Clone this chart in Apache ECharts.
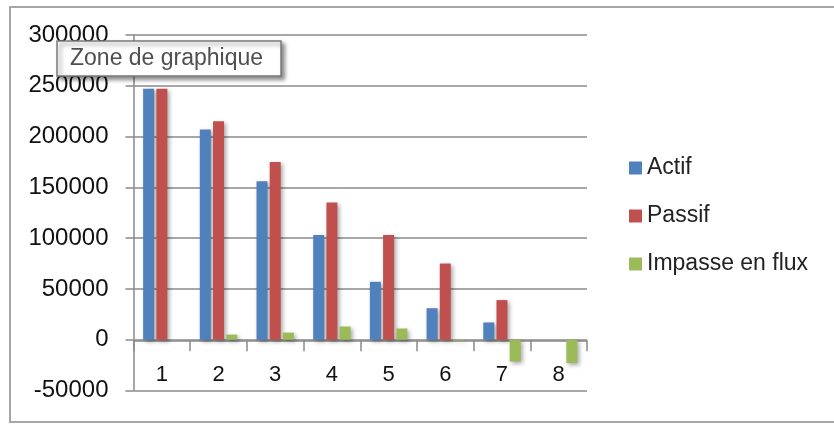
<!DOCTYPE html>
<html>
<head>
<meta charset="utf-8">
<script src="https://cdn.jsdelivr.net/npm/echarts@6/dist/echarts.min.js"></script>
<style>
  html, body { margin: 0; padding: 0; background: #ffffff; }
  #chart { width: 834px; height: 432px; }
</style>
</head>
<body>
<div id="chart"></div>
<script>
// ---- data ----
var categories = ['1', '2', '3', '4', '5', '6', '7', '8'];
var seriesNames = ['Actif', 'Passif', 'Impasse en flux'];
var actif   = [247000, 207000, 156000, 103000, 57000, 31000, 17000, 0];
var passif  = [247000, 215000, 175000, 135000, 103000, 75000, 39000, 0];
var impasse = [0, 5000, 7000, 13000, 11000, -800, -21500, -23000];
var yTicks = { min: -50000, max: 300000, interval: 50000 };
var tooltipLabel = 'Zone de graphique';

var FONT = 'Liberation Sans';
var colors = ['#4F81BD', '#C0504D', '#9BBB59'];
var AXIS_GRAY = '#8a8a8a';

var chart = echarts.init(document.getElementById('chart'), null, { renderer: 'canvas' });

function barSeries(name, data, color) {
  return {
    name: name,
    type: 'bar',
    data: data,
    barWidth: 11,
    barGap: '20%',
    itemStyle: {
      color: color,
      shadowColor: 'rgba(0,0,0,0.35)',
      shadowBlur: 4,
      shadowOffsetX: 2,
      shadowOffsetY: 2
    }
  };
}

var option = {
  backgroundColor: '#ffffff',
  animation: false,
  textStyle: { fontFamily: FONT },
  grid: { left: 133.5, right: 247, top: 35, bottom: 41.5, containLabel: false },
  legend: {
    orient: 'vertical',
    left: 629,
    top: 156,
    padding: 0,
    itemWidth: 13,
    itemHeight: 13,
    itemGap: 24,
    icon: 'rect',
    data: seriesNames,
    textStyle: { fontFamily: FONT, fontSize: 23, color: '#222222', lineHeight: 24 }
  },
  xAxis: {
    type: 'category',
    data: categories,
    boundaryGap: true,
    axisLine: { show: true, onZero: false, lineStyle: { color: AXIS_GRAY, width: 1.5 } },
    axisTick: { show: true, length: 11, alignWithLabel: false, lineStyle: { color: AXIS_GRAY, width: 1.5 } },
    axisLabel: { margin: 24, fontFamily: FONT, fontSize: 22, color: '#111111' },
    splitLine: { show: false }
  },
  yAxis: {
    type: 'value',
    min: yTicks.min,
    max: yTicks.max,
    interval: yTicks.interval,
    axisLine: { show: true, lineStyle: { color: AXIS_GRAY, width: 1.5 } },
    axisTick: { show: true, length: 8, lineStyle: { color: AXIS_GRAY, width: 1.5 } },
    axisLabel: {
      margin: 25, fontFamily: FONT, fontSize: 24, color: '#111111',
      formatter: function (v) { return String(v); }
    },
    splitLine: { show: true, lineStyle: { color: AXIS_GRAY, width: 1.5 } }
  },
  series: [
    barSeries(seriesNames[0], actif, colors[0]),
    barSeries(seriesNames[1], passif, colors[1]),
    barSeries(seriesNames[2], impasse, colors[2])
  ],
  graphic: [
    {
      type: 'rect',
      z: 100,
      silent: true,
      shape: { x: 10, y: 7, width: 900, height: 415 },
      style: { fill: 'none', stroke: '#a6a6a6', lineWidth: 2 }
    },
    {
      type: 'group',
      z: 200,
      silent: true,
      children: [
        {
          type: 'rect',
          z: 200,
          shape: { x: 57, y: 41, width: 224, height: 35 },
          style: {
            fill: '#ffffff',
            stroke: '#7a7a7a',
            lineWidth: 1.5,
            shadowColor: 'rgba(0,0,0,0.45)',
            shadowBlur: 4,
            shadowOffsetX: 3,
            shadowOffsetY: 3
          }
        },
        {
          type: 'text',
          z: 201,
          style: {
            x: 70,
            y: 58.5,
            text: tooltipLabel,
            fontFamily: FONT,
            fontSize: 23,
            fill: '#4f4f4f',
            verticalAlign: 'middle',
            align: 'left'
          }
        }
      ]
    }
  ]
};

chart.setOption(option);

// Move the category axis (line, ticks and labels) onto the zero line, as in the reference.
var zeroPx = chart.convertToPixel({ yAxisIndex: 0 }, 0);
var minPx = chart.convertToPixel({ yAxisIndex: 0 }, yTicks.min);
chart.setOption({ xAxis: { offset: -(minPx - zeroPx) } });
</script>
</body>
</html>
